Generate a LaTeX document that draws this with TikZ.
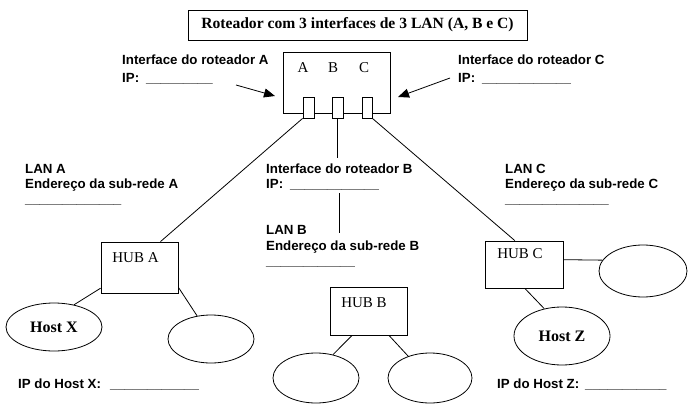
\documentclass[tikz,border=0pt]{standalone}
\usepackage{fontspec}
\setmainfont{Liberation Serif}
\setsansfont{Liberation Sans}
\usetikzlibrary{shapes.geometric,arrows.meta}
\tikzset{
  lbl/.style={font=\fontsize{13.3}{16}\selectfont\sffamily\bfseries, anchor=base west, inner sep=0pt},
  box/.style={draw, rectangle, inner sep=0pt, line width=0.8pt},
  port/.style={box, fill=white, minimum height=21pt},
  hubbox/.style={box},
  hubtxt/.style={font=\fontsize{15}{18}\selectfont\rmfamily, inner sep=0pt},
  host/.style={draw, ellipse, inner sep=0pt, line width=0.8pt, font=\fontsize{16}{19}\selectfont\rmfamily\bfseries},
  wire/.style={line width=0.8pt},
  pointer/.style={line width=0.8pt, -{Triangle[length=11pt,width=9pt]}},
  letter/.style={font=\fontsize{15}{18}\selectfont\rmfamily, inner sep=0pt}
}
\begin{document}
\begin{tikzpicture}[x=1pt,y=-1pt]
\useasboundingbox (0,0) rectangle (695,409);

% title
\node[box, minimum width=339pt, minimum height=30pt, font=\fontsize{15.6}{18}\selectfont\rmfamily\bfseries] (title) at (357.5,25) {Roteador com 3 interfaces de 3 LAN (A, B e C)};

% router
\node[box, minimum width=107pt, minimum height=61pt] (router) at (336.5,82.5) {};
\node[letter] (lA) at (303,68) {A};
\node[letter] (lB) at (333,68) {B};
\node[letter] (lC) at (364,68) {C};

% ports
\node[port, minimum width=11pt] (pA) at (308.5,107.5) {};
\node[port, minimum width=11pt] (pB) at (337.5,107.5) {};
\node[port, minimum width=10pt] (pC) at (367,107.5) {};

% hubs
\node[hubbox, minimum width=77pt, minimum height=51pt] (hubA) at (139.5,267.5) {};
\node[hubtxt] (hubAt) at (135.5,258) {HUB A};
\node[hubbox, minimum width=77pt, minimum height=48pt] (hubB) at (368.5,311) {};
\node[hubtxt] (hubBt) at (364,303) {HUB B};
\node[hubbox, minimum width=78pt, minimum height=47pt] (hubC) at (524,264.5) {};
\node[hubtxt] (hubCt) at (520,254) {HUB C};

% hosts
\node[host, minimum width=96pt, minimum height=48pt] (hostX) at (54,327) {Host X};
\node[host, minimum width=86pt, minimum height=48pt] (eA2) at (211,339) {};
\node[host, minimum width=86pt, minimum height=50pt] (eB1) at (316,378) {};
\node[host, minimum width=84pt, minimum height=50pt] (eB2) at (430,378) {};
\node[host, minimum width=88pt, minimum height=52pt] (eC2) at (643,271) {};
\node[host, minimum width=96pt, minimum height=58pt] (hostZ) at (562,336) {Host Z};

% coordinates
\coordinate (bEnd) at (337.5,158);
\coordinate (bTop) at (339,193);
\coordinate (bBot) at (339,233);
\coordinate (arrAs) at (236,85);
\coordinate (arrAe) at (275,96);
\coordinate (arrCs) at (450,78);
\coordinate (arrCe) at (398,97);

% wires
\draw[wire] (pA.south west) -- (hubA.51);
\draw[wire] (pB.south) -- (bEnd);
\draw[wire] (pC.south east) -- (hubC.111);
\draw[wire] (bTop) -- (bBot);
\draw[wire] (hubA.208) -- (hostX.48);
\draw[wire] (hubA.333) -- (eA2.121);
\draw[wire] (hubB.236) -- (eB1.54);
\draw[wire] (hubB.310) -- (eB2.135);
\draw[wire] (hubC.7) -- (eC2.165);
\draw[wire] (hubC.272) -- (hostZ.123);

% arrows
\draw[pointer] (arrAs) -- (arrAe);
\draw[pointer] (arrCs) -- (arrCe);

% labels
\node[lbl] (intA) at (122,65) {Interface do roteador A};
\node[lbl] (ipA) at (122,83) {\makebox[24pt][l]{IP:}\_\_\_\_\_\_\_\_\_};
\node[lbl] (intC) at (458,65) {Interface do roteador C};
\node[lbl] (ipC) at (458,83) {\makebox[24pt][l]{IP:}\_\_\_\_\_\_\_\_\_\_\_\_};
\node[lbl] (lanA) at (25,173) {LAN A};
\node[lbl] (endA) at (25,188) {Endereço da sub-rede A};
\node[lbl] (ulA) at (25,203) {\_\_\_\_\_\_\_\_\_\_\_\_\_};
\node[lbl] (intB) at (266,173) {Interface do roteador B};
\node[lbl] (ipB) at (266,188) {\makebox[24pt][l]{IP:}\_\_\_\_\_\_\_\_\_\_\_\_};
\node[lbl] (lanB) at (266,234) {LAN B};
\node[lbl] (endB) at (266,250) {Endereço da sub-rede B};
\node[lbl] (ulB) at (266,265) {\_\_\_\_\_\_\_\_\_\_\_\_};
\node[lbl] (lanC) at (505,173) {LAN C};
\node[lbl] (endC) at (505,188) {Endereço da sub-rede C};
\node[lbl] (ulC) at (505,203) {\_\_\_\_\_\_\_\_\_\_\_\_\_\_};
\node[lbl] (ipX) at (18,388) {\makebox[92pt][l]{IP do Host X:}\_\_\_\_\_\_\_\_\_\_\_\_};
\node[lbl] (ipZ) at (497,388) {\makebox[88pt][l]{IP do Host Z:}\_\_\_\_\_\_\_\_\_\_\_};
\end{tikzpicture}
\end{document}
